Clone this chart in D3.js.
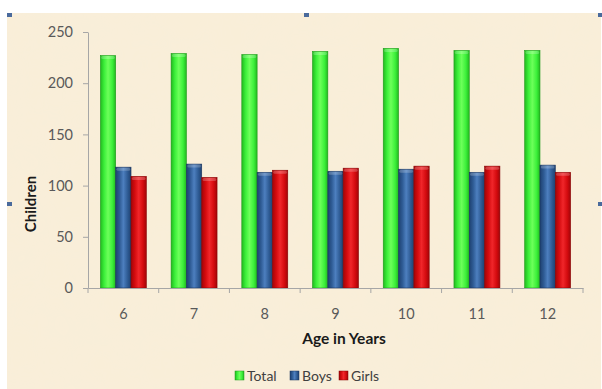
<!DOCTYPE html>
<html>
<head>
<meta charset="utf-8">
<script src="https://cdn.jsdelivr.net/npm/d3@7"></script>
<style>
  html, body { margin: 0; padding: 0; background: #ffffff; }
  svg { display: block; }
  text { font-family: Lato, "Open Sans", "Liberation Sans", sans-serif; }
</style>
</head>
<body>
<div id="chart"></div>
<script>
// Children per age, split by boys and girls
const ages = ["6", "7", "8", "9", "10", "11", "12"];
const seriesNames = ["Total", "Boys", "Girls"];
const totalValues = [227, 229, 228, 231, 234, 232, 232];
const boysValues  = [118, 121, 113, 114, 116, 113, 120];
const girlsValues = [109, 108, 115, 117, 119, 119, 113];
const yTicks = [0, 50, 100, 150, 200, 250];

const seriesValues = { Total: totalValues, Boys: boysValues, Girls: girlsValues };
const seriesColors = {
  Total: { light: "#6dff5a", mid: "#3cf03a", dark: "#22b81f", edge: "#1f9a1c" },
  Boys:  { light: "#4d7fbf", mid: "#2e5b94", dark: "#1f4170", edge: "#1a3560" },
  Girls: { light: "#f0262a", mid: "#d40b0f", dark: "#a10508", edge: "#870406" }
};

const W = 602, H = 389;
const plot = { left: 88, right: 583, top: 32, bottom: 288 };

const svg = d3.select("#chart").append("svg")
  .attr("width", W).attr("height", H);

const defs = svg.append("defs");

// parchment texture
const tex = defs.append("filter").attr("id", "paper")
  .attr("x", 0).attr("y", 0).attr("width", "100%").attr("height", "100%");
tex.append("feTurbulence").attr("type", "fractalNoise")
  .attr("baseFrequency", 0.02).attr("numOctaves", 3).attr("seed", 7).attr("result", "noise");
tex.append("feColorMatrix").attr("in", "noise").attr("type", "matrix")
  .attr("values", "0 0 0 0 0.93  0 0 0 0 0.86  0 0 0 0 0.72  0 0 0 0.3 0")
  .attr("result", "tint");
tex.append("feComposite").attr("in", "tint").attr("in2", "SourceGraphic").attr("operator", "in");

// bar shading gradients
seriesNames.forEach(name => {
  const c = seriesColors[name];
  const g = defs.append("linearGradient").attr("id", "grad-" + name)
    .attr("x1", "0%").attr("x2", "100%").attr("y1", "0%").attr("y2", "0%");
  g.append("stop").attr("offset", "0%").attr("stop-color", c.dark);
  g.append("stop").attr("offset", "25%").attr("stop-color", c.mid);
  g.append("stop").attr("offset", "50%").attr("stop-color", c.light);
  g.append("stop").attr("offset", "78%").attr("stop-color", c.mid);
  g.append("stop").attr("offset", "100%").attr("stop-color", c.dark);
});

// background panel
svg.append("rect").attr("x", 7).attr("y", 13).attr("width", 594).attr("height", 376)
  .attr("fill", "#f9eed8");
svg.append("rect").attr("x", 7).attr("y", 13).attr("width", 594).attr("height", 376)
  .attr("fill", "#f9eed8").attr("filter", "url(#paper)");

// selection handles on the frame
const handles = [[7, 13], [304, 13], [598, 13], [7, 202], [598, 202]];
svg.append("g").selectAll("rect").data(handles).join("rect")
  .attr("x", d => d[0]).attr("y", d => d[1]).attr("width", 5).attr("height", 4)
  .attr("fill", "#4a6a9c");

// scales
const x0 = d3.scaleBand().domain(ages).range([plot.left, plot.right]).padding(0);
const groupFrac = 0.65;
const outer = (3 / groupFrac - 3) / 2;
const x1 = d3.scaleBand().domain(seriesNames).range([0, x0.bandwidth()])
  .paddingInner(0).paddingOuter(outer);
const y = d3.scaleLinear().domain([0, 250]).range([plot.bottom, plot.top]);

// y axis
const yAxis = svg.append("g").attr("transform", `translate(${plot.left},0)`)
  .call(d3.axisLeft(y).tickValues(yTicks).tickSize(5).tickSizeOuter(0).tickPadding(10));
yAxis.selectAll("path, line").attr("stroke", "#a6a6a6");
yAxis.selectAll("text").attr("fill", "#595959").style("font-size", "14.5px")
  .style("font-family", "Lato, 'Open Sans', sans-serif");

// bars
const groups = svg.append("g").selectAll("g").data(ages).join("g")
  .attr("transform", d => `translate(${x0(d)},0)`);

groups.each(function(age, i) {
  const g = d3.select(this);
  seriesNames.forEach(name => {
    const v = seriesValues[name][i];
    const bx = x1(name), bw = x1.bandwidth();
    const top = y(v), bottom = y(0);
    g.append("rect")
      .attr("x", bx).attr("y", top).attr("width", bw).attr("height", bottom - top)
      .attr("fill", `url(#grad-${name})`)
      .attr("stroke", seriesColors[name].edge).attr("stroke-width", 0.6);
    // bevelled top
    g.append("rect")
      .attr("x", bx + 0.8).attr("y", top + 0.5).attr("width", bw - 1.6).attr("height", 3)
      .attr("rx", 1.5)
      .attr("fill", "#ffffff").attr("opacity", 0.22);
  });
});

// x axis line with category boundary ticks
const xAxisG = svg.append("g").attr("transform", `translate(0,${plot.bottom})`);
xAxisG.call(d3.axisBottom(x0).tickSize(0).tickPadding(21));
xAxisG.select(".domain").attr("stroke", "#a6a6a6");
xAxisG.selectAll("text").attr("fill", "#595959").style("font-size", "14.5px")
  .style("font-family", "Lato, 'Open Sans', sans-serif");
const bounds = ages.map(a => x0(a)).concat([plot.right]);
xAxisG.selectAll("line.bound").data(bounds).join("line").attr("class", "bound")
  .attr("x1", d => d).attr("x2", d => d).attr("y1", 0).attr("y2", 5)
  .attr("stroke", "#a6a6a6");

// axis titles
svg.append("text")
  .attr("transform", `translate(36,204) rotate(-90)`)
  .attr("text-anchor", "middle")
  .attr("fill", "#1a1a1a").style("font-size", "15px").style("font-weight", "bold")
  .text("Children");

svg.append("text")
  .attr("x", 344).attr("y", 344)
  .attr("text-anchor", "middle")
  .attr("fill", "#1a1a1a").style("font-size", "15.5px").style("font-weight", "bold")
  .text("Age in Years");

// legend
const legendItems = [
  { name: "Total", x: 235 },
  { name: "Boys", x: 290 },
  { name: "Girls", x: 339 }
];
const legend = svg.append("g");
legendItems.forEach(it => {
  legend.append("rect").attr("x", it.x).attr("y", 371).attr("width", 9).attr("height", 9)
    .attr("fill", `url(#grad-${it.name})`).attr("stroke", seriesColors[it.name].edge).attr("stroke-width", 0.5);
  legend.append("text").attr("x", it.x + 12).attr("y", 381)
    .attr("fill", "#404040").style("font-size", "14px").text(it.name);
});
</script>
</body>
</html>
